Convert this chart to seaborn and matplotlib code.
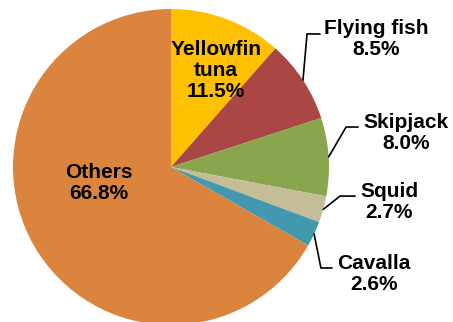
import numpy as np
import matplotlib
matplotlib.use("Agg")
import matplotlib.pyplot as plt
import seaborn as sns

# catch shares (%) clockwise from 12 o'clock
species = ['Yellowfin\ntuna', 'Flying fish', 'Skipjack', 'Squid', 'Cavalla', 'Others']
shares = [11.5, 8.5, 8.0, 2.7, 2.6, 66.8]
colors = ['#FFC000', '#AA4643', '#89A54E', '#C4BD97', '#4198AF', '#DB843D']

# label centres (data units, pie radius = 1) and leader-line elbows
label_pos = [(0.285, 0.61), (1.30, 0.81), (1.487, 0.215), (1.38, -0.222), (1.285, -0.677), (-0.456, -0.10)]
elbows = [None, (0.861, 0.842, 0.943), (1.108, 0.253, 1.184), (1.070, -0.184, 1.165),
          (0.949, -0.639, 1.019), None]

sns.set_theme(style="white")
plt.rcParams['font.family'] = ['Liberation Sans', 'DejaVu Sans']

fig = plt.figure(figsize=(4.53, 3.22), dpi=100)
ax = fig.add_axes([0, 0, 1, 1])
wedges, _ = ax.pie(shares, colors=sns.color_palette(colors), startangle=90,
                   counterclock=False, radius=1, wedgeprops=dict(linewidth=0))

for w, name, val, pos, elb in zip(wedges, species, shares, label_pos, elbows):
    ax.text(pos[0], pos[1], f"{name}\n{val:.1f}%", ha='center', va='center',
            fontsize=15, fontweight='bold', color='black', linespacing=1.12)
    if elb is not None:
        mid = np.deg2rad((w.theta1 + w.theta2) / 2)
        x0, y0 = np.cos(mid), np.sin(mid)
        ax.plot([x0, elb[0], elb[2]], [y0, elb[1], elb[1]], color='black', lw=1.2,
                clip_on=False, solid_joinstyle='miter')

ax.set_xlim(-171 / 158, (453 - 171) / 158)
ax.set_ylim((167 - 322) / 158, 167 / 158)
ax.set_aspect('auto')
ax.axis('off')

fig.savefig('out.png', dpi=100)
